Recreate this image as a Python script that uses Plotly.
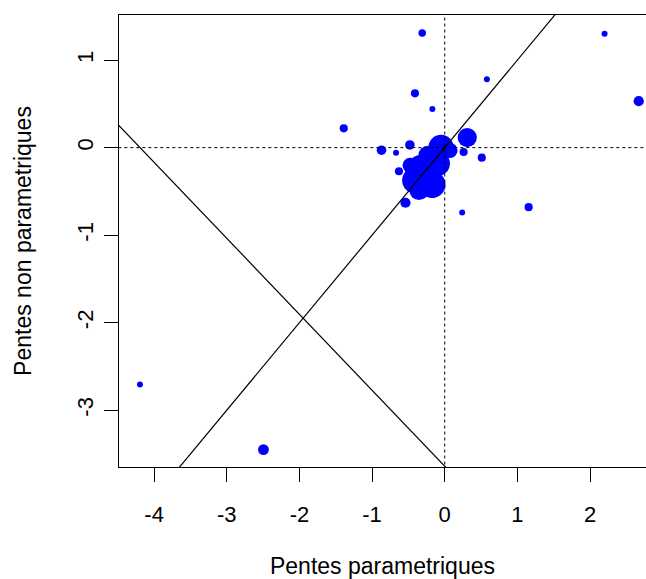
import plotly.graph_objects as go

# ---- data ----
pentes_param = [
    -0.31, 0.58, -0.41, -0.17, -1.39, 2.20, 2.67, 0.51, 1.155, -0.87, -0.67, -0.48,
    0.31, 0.26, -0.63, -0.54, 0.24, -4.195, -2.495,
    -0.051, 0.073, -0.298, -0.409, -0.175, -0.106, -0.230, -0.161, -0.354, -0.477,
]
pentes_nonparam = [
    1.31, 0.78, 0.62, 0.44, 0.22, 1.30, 0.53, -0.115, -0.68, -0.03, -0.06, 0.03,
    0.115, -0.05, -0.27, -0.63, -0.74, -2.706, -3.45,
    0.003, -0.032, -0.283, -0.375, -0.421, -0.181, -0.089, -0.512, -0.489, -0.203,
]
# relative weight of each point (symbol size, like R's cex)
poids = [
    1.25, 1.0, 1.35, 1.0, 1.35, 1.0, 1.7, 1.35, 1.35, 1.6, 1.0, 1.6,
    3.2, 1.35, 1.35, 1.7, 1.0, 1.0, 1.8,
    4.2, 2.5, 6.0, 4.3, 4.5, 4.3, 3.2, 1.8, 3.2, 2.5,
]

x_ticks = [-4, -3, -2, -1, 0, 1, 2]
y_ticks = [-3, -2, -1, 0, 1]

# reference lines: y = a + b*x
diag_ordonnee, diag_pente = 0.0, 1.0
autre_ordonnee, autre_pente = -3.64, -0.868

x_range = [-4.483, 2.77]
y_range = [-3.649, 1.515]

# ---- figure ----
FONT = "Liberation Sans, Arial, sans-serif"
fig = go.Figure()

fig.add_trace(go.Scatter(
    x=pentes_param, y=pentes_nonparam, mode="markers",
    marker=dict(color="#0000FF", size=[6 * p for p in poids], opacity=1, line=dict(width=0)),
    hoverinfo="x+y", showlegend=False,
))

# dotted axes at 0
fig.add_trace(go.Scatter(x=[x_range[0] - 1, x_range[1] + 1], y=[0, 0], mode="lines",
                         line=dict(color="black", width=1, dash="dot"), showlegend=False, hoverinfo="skip"))
fig.add_trace(go.Scatter(x=[0, 0], y=[y_range[0] - 1, y_range[1] + 1], mode="lines",
                         line=dict(color="black", width=1, dash="dot"), showlegend=False, hoverinfo="skip"))

xs = [x_range[0] - 1, x_range[1] + 1]
fig.add_trace(go.Scatter(x=xs, y=[diag_ordonnee + diag_pente * v for v in xs], mode="lines",
                         line=dict(color="black", width=1.2), showlegend=False, hoverinfo="skip"))
fig.add_trace(go.Scatter(x=xs, y=[autre_ordonnee + autre_pente * v for v in xs], mode="lines",
                         line=dict(color="black", width=1.2), showlegend=False, hoverinfo="skip"))

fig.update_layout(
    width=646, height=579,
    margin=dict(l=119, r=0, t=15, b=112, autoexpand=False),
    paper_bgcolor="white", plot_bgcolor="white",
    font=dict(family=FONT, color="black", size=22),
    xaxis=dict(
        range=x_range, tickvals=x_ticks, ticktext=[str(v) for v in x_ticks],
        showgrid=False, zeroline=False, showline=True, linecolor="black", linewidth=1,
        mirror=True, ticks="outside", ticklen=14, tickcolor="black", tickwidth=1,
        ticklabelstandoff=14, tickfont=dict(size=22),
        title=dict(text="Pentes parametriques", font=dict(size=23), standoff=35),
        automargin=False,
    ),
    yaxis=dict(
        range=y_range, tickvals=y_ticks, ticktext=[str(v) for v in y_ticks],
        showgrid=False, zeroline=False, showline=True, linecolor="black", linewidth=1,
        mirror=False, ticks="outside", ticklen=14, tickcolor="black", tickwidth=1,
        tickangle=-90, ticklabelstandoff=2, tickfont=dict(size=22),
        title=dict(text="Pentes non parametriques", font=dict(size=23), standoff=35),
        automargin=False,
    ),
)

fig.write_html(
    "out.html",
    config={"displayModeBar": False},
    post_script="document.body.style.margin='0';document.body.style.overflow='hidden';",
)
